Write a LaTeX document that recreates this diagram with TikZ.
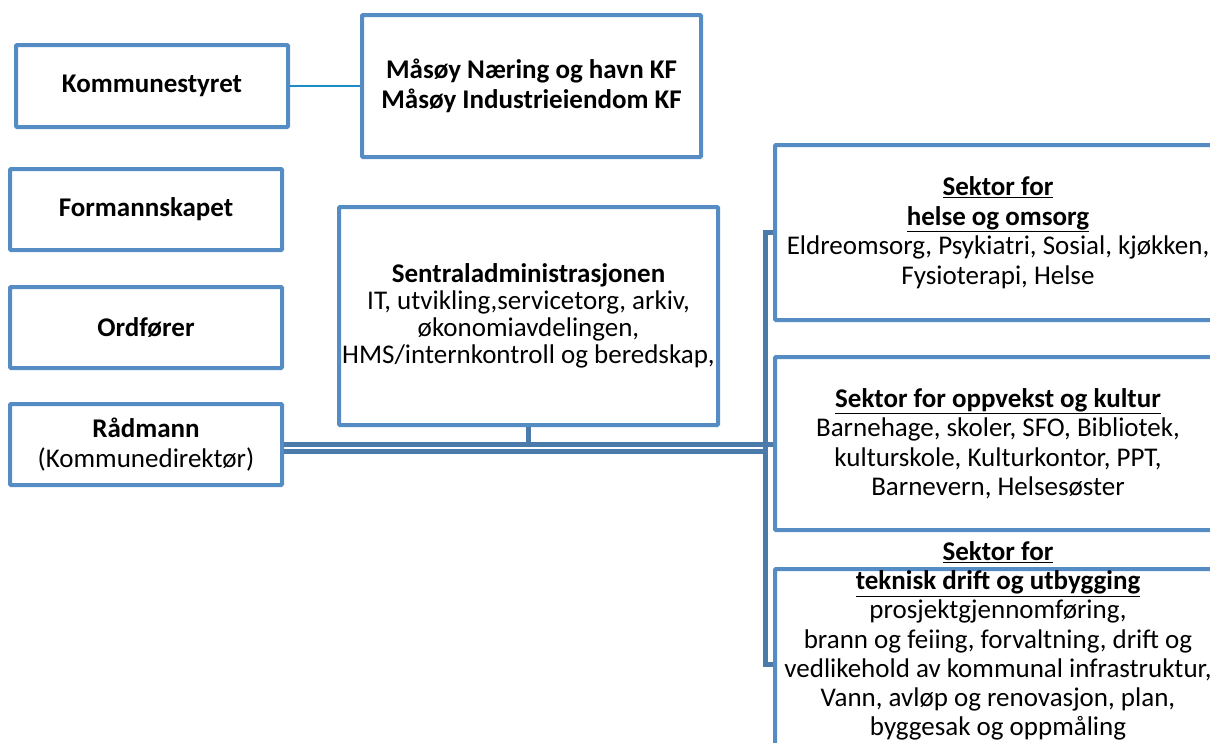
\documentclass[tikz,border=0pt]{standalone}
\usepackage{fontspec}
\setmainfont{Carlito}
\definecolor{boxblue}{RGB}{86,140,196}
\definecolor{connblue}{RGB}{74,123,170}
\definecolor{thinblue}{RGB}{30,140,196}
\tikzset{
  orgbox/.style={draw=boxblue, line width=4pt, fill=white, rounded corners=1pt,
    inner sep=0pt, align=center, font=\fontsize{27}{29.5}\selectfont},
  conn/.style={draw=connblue, line width=5pt},
  thinconn/.style={draw=thinblue, line width=2pt},
}
\begin{document}
\begin{tikzpicture}[x=1pt,y=-1pt]
\useasboundingbox (0,0) rectangle (1210,742);
\clip (0,0) rectangle (1210,742);
% boxes
\node[orgbox, minimum width=272pt, minimum height=82pt] (kom) at (152,86) {\textbf{Kommunestyret}};
\node[orgbox, minimum width=339pt, minimum height=142pt] (mas) at (531.5,86) {\textbf{Måsøy Næring og havn KF}\\\textbf{Måsøy Industrieiendom KF}};
\node[orgbox, minimum width=272pt, minimum height=81pt] (for) at (146,209.5) {\textbf{Formannskapet}};
\node[orgbox, minimum width=272pt, minimum height=81pt] (ord) at (146,327.5) {\textbf{Ordfører}};
\node[orgbox, minimum width=272pt, minimum height=81pt] (rad) at (146,444.5) {\textbf{Rådmann}\\(Kommunedirektør)};
\coordinate (bus) at (765,0);
% connectors
\draw[thinconn] (kom.east) -- (mas.west);
\node[orgbox, minimum width=379pt, minimum height=218pt, font=\fontsize{27}{27}\selectfont] (sen) at (528.5,316) {\textbf{Sentraladministrasjonen}\\IT, utvikling,servicetorg, arkiv,\\økonomiavdelingen,\\HMS/internkontroll og beredskap,};
\node[orgbox, minimum width=446pt, minimum height=175pt] (hel) at (998,232.5) {\textbf{\underline{Sektor for}}\\\textbf{\underline{helse og omsorg}}\\Eldreomsorg, Psykiatri, Sosial, kjøkken,\\Fysioterapi, Helse};
\node[orgbox, minimum width=446pt, minimum height=173pt] (opp) at (998,443.5) {\textbf{\underline{Sektor for oppvekst og kultur}}\\Barnehage, skoler, SFO, Bibliotek,\\kulturskole, Kulturkontor, PPT,\\Barnevern, Helsesøster};
\node[orgbox, minimum width=446pt, minimum height=191pt] (tek) at (998,664.5) {};
\node[align=center, inner sep=0pt, font=\fontsize{27}{29.2}\selectfont] (tektext) at (998,641) {\textbf{\underline{Sektor for}}\\\textbf{\underline{teknisk drift og utbygging}}\\prosjektgjennomføring,\\brann og feiing, forvaltning, drift og\\vedlikehold av kommunal infrastruktur,\\Vann, avløp og renovasjon, plan,\\byggesak og oppmåling};
\draw[conn] (rad.east) -- (rad.east -| opp.west);
\draw[conn] ([yshift=-7pt]rad.east) -- ([yshift=-7pt]rad.east -| bus);
\draw[conn] (hel.west) -- (hel.west -| bus) -- (tek.west -| bus) -- (tek.west);
\draw[conn] (sen.south) -- (sen.south |- rad.east);
\end{tikzpicture}
\end{document}
